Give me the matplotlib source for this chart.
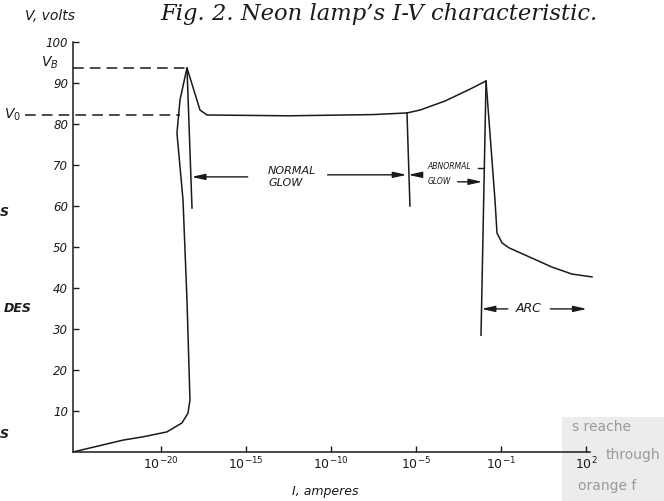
import matplotlib
matplotlib.use("Agg")
import matplotlib.pyplot as plt
from matplotlib.patches import Rectangle

# -------------------------------------------------
# Data (x = decade step position, y = volts)
# -------------------------------------------------
tick_pos = [1, 2, 3, 4, 5, 6]
tick_labels = ["$10^{-20}$", "$10^{-15}$", "$10^{-10}$", "$10^{-5}$", "$10^{-1}$", "$10^{2}$"]
y_ticks = [10, 20, 30, 40, 50, 60, 70, 80, 90, 100]

curve_x = [-0.035, 0.553, 0.788, 1.07, 1.247, 1.318, 1.341, 1.306, 1.259, 1.188, 1.224, 1.306,
           1.459, 1.541, 2.5, 3.5, 3.894, 4.047, 4.341, 4.635, 4.824,
           4.929, 4.953, 5.012, 5.094, 5.6, 5.835, 6.071]
curve_y = [0, 2.9, 3.7, 4.9, 7.1, 9.5, 12.7, 37, 61.5, 77.8, 85.9, 93.7,
           83.4, 82.2, 82.0, 82.3, 82.7, 83.4, 85.6, 88.5, 90.5,
           61.5, 53.4, 51.0, 49.8, 45.1, 43.4, 42.7]

v_b = 93.7
v_0 = 82.2

# region boundary lines (x pair, y pair)
normal_edge = ([1.306, 1.365], [93.7, 59.5])
abnormal_edge = ([3.894, 3.929], [82.7, 60.0])
arc_edge = ([4.824, 4.765], [90.5, 28.5])

ink = "#1a1a1a"
hand = dict(family="DejaVu Sans", style="italic", color=ink)

plt.rcParams["mathtext.default"] = "it"

fig = plt.figure(figsize=(6.64, 5.01), dpi=100)

# show-through from the back of the page (drawn under everything)
fig.patches.append(Rectangle((562 / 664, 0), 102 / 664, 84 / 501, transform=fig.transFigure,
                             facecolor="#ececec", edgecolor="none", zorder=-5))
for xx, yy, txt in ((572, 427, "s reache"), (606, 455, "through"), (578, 486, "orange f")):
    fig.text(xx / 664, 1 - yy / 501, txt, ha="left", va="center", fontsize=10,
             color="#9a9a9a", zorder=-4)

ax = fig.add_axes([73 / 664, 49 / 501, (594.5 - 73) / 664, 410 / 501])
ax.patch.set_alpha(0)
ax.set_xlim(-0.035, 6.1)
ax.set_ylim(0, 100)

for s in ["top", "right"]:
    ax.spines[s].set_visible(False)
for s in ["left", "bottom"]:
    ax.spines[s].set_color(ink)
    ax.spines[s].set_linewidth(1.1)
ax.spines["bottom"].set_bounds(-0.035, 6.05)

ax.set_xticks(tick_pos)
ax.set_xticklabels(tick_labels)
ax.set_yticks(y_ticks)
ax.set_yticklabels([str(v) for v in y_ticks])
ax.tick_params(direction="in", length=4, width=1, colors=ink, labelsize=8.5)
ax.tick_params(axis="x", pad=3, labelsize=9)
for lab in ax.get_yticklabels():
    lab.set_style("italic")

# main curve
ax.plot(curve_x, curve_y, color=ink, lw=1.1, solid_joinstyle="miter")

# boundaries
for xs, ys in (normal_edge, abnormal_edge, arc_edge):
    ax.plot(xs, ys, color=ink, lw=1.1)

# dashed reference levels
ax.plot([-0.035, 1.306], [v_b, v_b], color=ink, lw=1.1, ls=(0, (7, 4)))
ax.plot([-0.6, 1.22], [v_0, v_0], color=ink, lw=1.1, ls=(0, (7, 4)), clip_on=False)
ax.text(-0.306, 94.9, "$V_B$", ha="center", va="center", fontsize=10, color=ink)
ax.text(-0.741, 82.2, "$V_0$", ha="center", va="center", fontsize=10, color=ink)

# annotations
arrow = dict(arrowstyle="-|>,head_length=0.8,head_width=0.18", color=ink, lw=1.0,
             shrinkA=0, shrinkB=0)
ax.annotate("", xy=(1.36, 67.1), xytext=(2.02, 67.1), arrowprops=arrow)
ax.annotate("", xy=(3.89, 67.6), xytext=(2.96, 67.6), arrowprops=arrow)
ax.text(2.54, 68.6, "NORMAL", ha="center", va="center", fontsize=8, **hand)
ax.text(2.47, 65.6, "GLOW", ha="center", va="center", fontsize=8, **hand)

ax.annotate("", xy=(3.91, 67.6), xytext=(4.05, 67.6), arrowprops=arrow)
ax.plot([4.73, 4.79], [69.3, 69.3], color=ink, lw=1.0)
ax.text(4.39, 69.6, "ABNORMAL", ha="center", va="center", fontsize=5.5, **hand)
ax.text(4.27, 65.9, "GLOW", ha="center", va="center", fontsize=5.5, **hand)
ax.annotate("", xy=(4.78, 65.9), xytext=(4.49, 65.9), arrowprops=arrow)

ax.annotate("", xy=(4.77, 34.9), xytext=(5.08, 34.9), arrowprops=arrow)
ax.annotate("", xy=(6.01, 34.9), xytext=(5.58, 34.9), arrowprops=arrow)
ax.text(5.33, 34.9, "ARC", ha="center", va="center", fontsize=9, **hand)

# titles / axis labels
fig.text(160 / 664, 1 - 14 / 501, "Fig. 2. Neon lamp\u2019s I-V characteristic.",
         ha="left", va="center", fontsize=16.3, family="DejaVu Serif", style="italic", color=ink)
fig.text(25 / 664, 1 - 16 / 501, "V, volts", ha="left", va="center", fontsize=10, **hand)
fig.text(325 / 664, 1 - 492 / 501, "I, amperes", ha="center", va="center", fontsize=9, **hand)

# fragments from the neighbouring column
for yy, txt in ((212, "S"), (309, "DES"), (435, "S")):
    fig.text(9 / 664 if txt == "S" else 32 / 664, 1 - yy / 501, txt, ha="right", va="center",
             fontsize=9, weight="bold", **hand)

fig.savefig("out.png", dpi=100)
